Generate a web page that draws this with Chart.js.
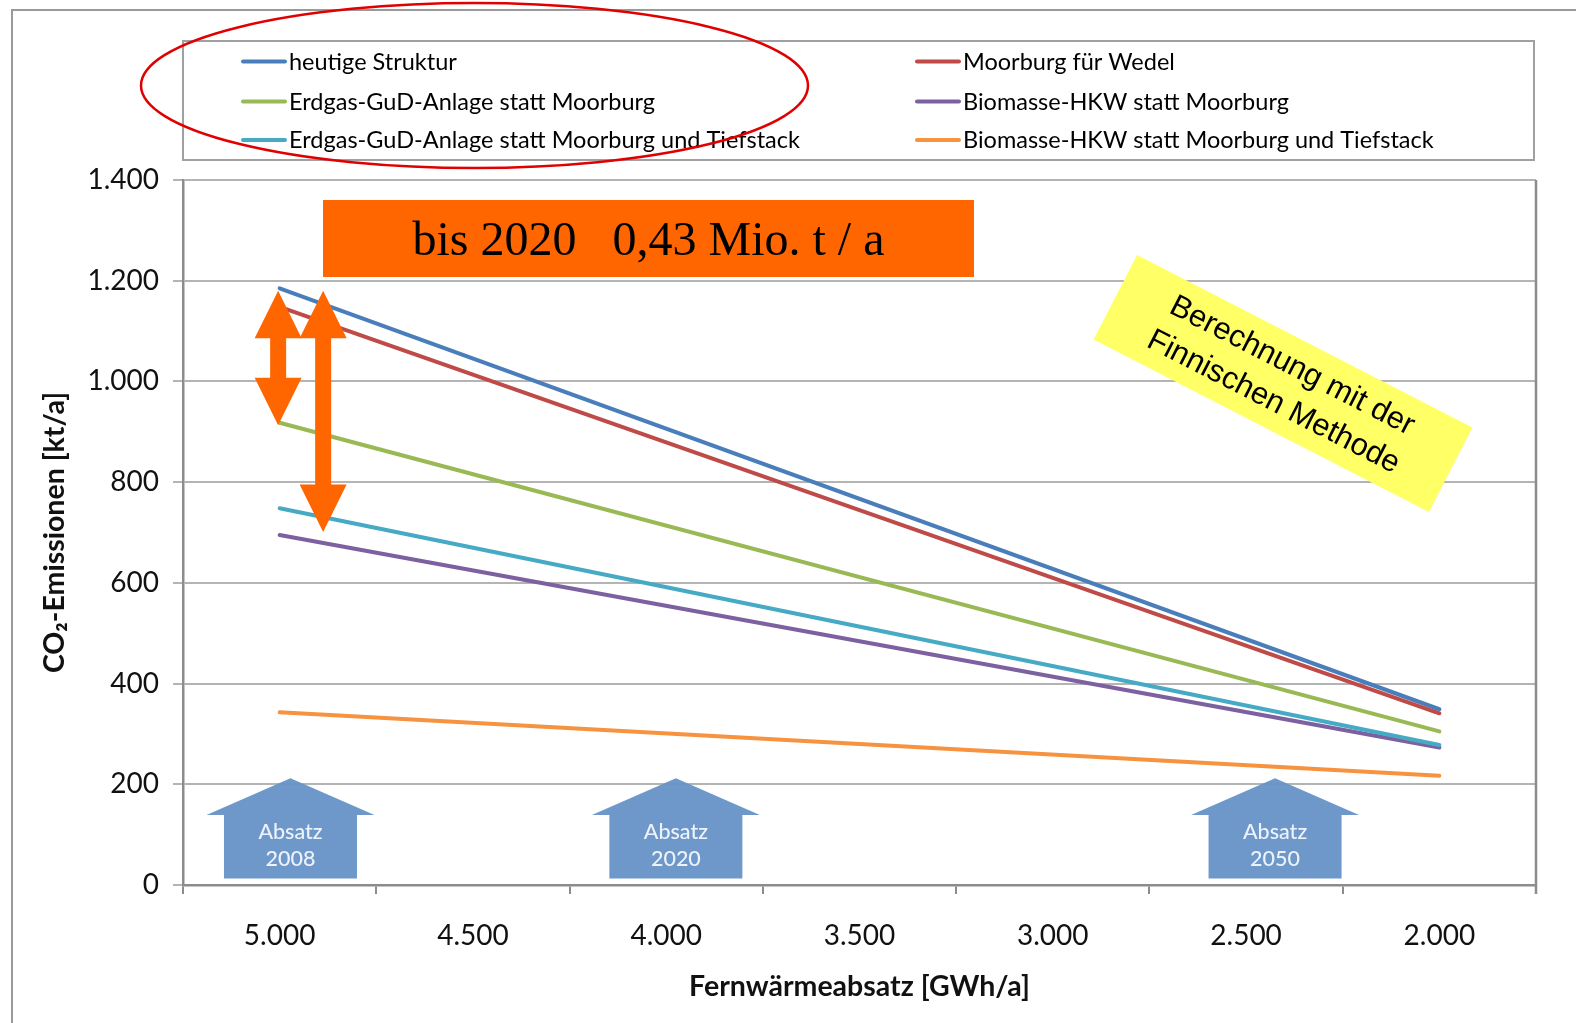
<!DOCTYPE html>
<html><head><meta charset="utf-8">
<script src="https://cdn.jsdelivr.net/npm/chart.js@4.4.1/dist/chart.umd.min.js"></script>
<style>html,body{margin:0;padding:0;background:#fff;}canvas{display:block;}</style>
</head><body>
<canvas id="c" width="1576" height="1023"></canvas>
<script>
// ---- data ----
const categories = ['5.000','4.500','4.000','3.500','3.000','2.500','2.000'];
const heutigeStruktur      = [1185, null, null, null, null, null, 349];
const moorburgFuerWedel    = [1148, null, null, null, null, null, 341];
const erdgasGuD            = [918,  null, null, null, null, null, 305];
const biomasseHKW          = [695,  null, null, null, null, null, 273];
const erdgasGuDTiefstack   = [748,  null, null, null, null, null, 278];
const biomasseHKWTiefstack = [343,  null, null, null, null, null, 217];
const seriesNames = ['heutige Struktur','Moorburg für Wedel','Erdgas-GuD-Anlage statt Moorburg',
  'Biomasse-HKW statt Moorburg','Erdgas-GuD-Anlage statt Moorburg und Tiefstack','Biomasse-HKW statt Moorburg und Tiefstack'];
const seriesValues = [heutigeStruktur, moorburgFuerWedel, erdgasGuD, biomasseHKW, erdgasGuDTiefstack, biomasseHKWTiefstack];
const seriesColors = ['#4A7EBB','#BE4B48','#98B954','#7D60A0','#46AAC5','#F69240'];
const yMin = 0, yMax = 1400, yStep = 200;
const houseLabels = [['Absatz','2008'],['Absatz','2020'],['Absatz','2050']];
const houseCategoryPos = [0.056, 2.05, 5.15];

const FONT = 'Lato, "Open Sans", sans-serif';

function fmtDE(v){ return String(Math.round(v)).replace(/\B(?=(\d{3})+(?!\d))/g, '.'); }

const datasets = seriesNames.map((n,i)=>({
  label: n, data: seriesValues[i], borderColor: seriesColors[i], backgroundColor: seriesColors[i],
  borderWidth: 4, pointRadius: 0, pointHoverRadius: 0, spanGaps: true, tension: 0, order: 6 - i,
  borderCapStyle: 'round'
}));

function doubleArrow(ctx, x, yTop, yBot, headH, headHW, shaftHW){
  ctx.beginPath();
  ctx.moveTo(x, yTop);
  ctx.lineTo(x + headHW, yTop + headH);
  ctx.lineTo(x + shaftHW, yTop + headH);
  ctx.lineTo(x + shaftHW, yBot - headH);
  ctx.lineTo(x + headHW, yBot - headH);
  ctx.lineTo(x, yBot);
  ctx.lineTo(x - headHW, yBot - headH);
  ctx.lineTo(x - shaftHW, yBot - headH);
  ctx.lineTo(x - shaftHW, yTop + headH);
  ctx.lineTo(x - headHW, yTop + headH);
  ctx.closePath();
  ctx.fill();
}

const decor = {
  id: 'decor',
  beforeDraw(chart){
    const ctx = chart.ctx;
    ctx.save();
    ctx.fillStyle = '#fff';
    ctx.fillRect(0,0,chart.width,chart.height);
    ctx.strokeStyle = '#9a9a9a'; ctx.lineWidth = 2;
    ctx.beginPath(); ctx.moveTo(12, chart.height); ctx.lineTo(12, 10); ctx.lineTo(chart.width, 10); ctx.stroke();
    ctx.restore();
  },
  beforeDatasetsDraw(chart){
    const ctx = chart.ctx, a = chart.chartArea;
    ctx.save();
    ctx.strokeStyle = '#8c8c8c'; ctx.lineWidth = 2.5;
    ctx.beginPath(); ctx.moveTo(a.right, a.top); ctx.lineTo(a.right, a.bottom + 9); ctx.stroke();
    ctx.restore();
  },
  afterDraw(chart){
    const ctx = chart.ctx, xs = chart.scales.x, ys = chart.scales.y;
    ctx.save();
    // legend box
    ctx.fillStyle = '#fff';
    ctx.fillRect(183, 41, 1351, 119);
    ctx.strokeStyle = '#a0a0a0'; ctx.lineWidth = 2;
    ctx.strokeRect(183, 41, 1351, 119);
    const rowsY = [61.5, 101.5, 140];
    const colX = [241, 915];
    ctx.font = '23.5px ' + FONT; ctx.textBaseline = 'middle'; ctx.textAlign = 'left';
    chart.data.datasets.forEach((d, i) => {
      const r = Math.floor(i/2), c = i % 2;
      const x0 = colX[c], y0 = rowsY[r];
      ctx.strokeStyle = d.borderColor; ctx.lineWidth = 4; ctx.lineCap = 'round';
      ctx.beginPath(); ctx.moveTo(x0+2, y0); ctx.lineTo(x0 + 44, y0); ctx.stroke();
      ctx.fillStyle = '#000';
      ctx.fillText(d.label, x0 + 48, y0 + 0.5);
    });

    // blue "house" arrows
    houseCategoryPos.forEach((p, k) => {
      const cx = xs.getPixelForValue(p);
      const top = ys.getPixelForValue(212), wing = ys.getPixelForValue(139), bot = ys.getPixelForValue(13);
      ctx.fillStyle = 'rgba(104,148,200,0.96)';
      ctx.beginPath();
      ctx.moveTo(cx, top); ctx.lineTo(cx+84, wing); ctx.lineTo(cx+66.5, wing); ctx.lineTo(cx+66.5, bot);
      ctx.lineTo(cx-66.5, bot); ctx.lineTo(cx-66.5, wing); ctx.lineTo(cx-84, wing); ctx.closePath(); ctx.fill();
      ctx.fillStyle = '#eef3fb'; ctx.font = '500 21.5px ' + FONT; ctx.textAlign = 'center'; ctx.textBaseline = 'middle';
      ctx.fillText(houseLabels[k][0], cx, ys.getPixelForValue(106));
      ctx.fillText(houseLabels[k][1], cx, ys.getPixelForValue(51));
    });

    // orange double arrows
    ctx.fillStyle = '#FF6600';
    const xa = xs.getPixelForValue(0);
    doubleArrow(ctx, xa - 1.5, ys.getPixelForValue(1180), ys.getPixelForValue(913), 47.5, 23.5, 8);
    doubleArrow(ctx, xa + 43.5, ys.getPixelForValue(1180), ys.getPixelForValue(701), 47.5, 23.5, 8);

    // orange box
    ctx.fillStyle = '#FF6600';
    ctx.fillRect(323, 200, 651, 77);
    ctx.fillStyle = '#000';
    ctx.font = '48px "Liberation Serif", "Times New Roman", serif';
    ctx.textAlign = 'center'; ctx.textBaseline = 'alphabetic';
    ctx.fillText('bis 2020   0,43 Mio. t / a', 648.5, 255);

    // yellow rotated note
    ctx.save();
    ctx.translate(1283, 383.5);
    ctx.rotate(27.2 * Math.PI / 180);
    ctx.fillStyle = '#FFFF66';
    ctx.fillRect(-188.5, -47.5, 377, 95);
    ctx.fillStyle = '#000';
    ctx.font = '31px "Liberation Sans", Arial, sans-serif';
    ctx.textAlign = 'center'; ctx.textBaseline = 'middle';
    ctx.fillText('Berechnung mit der', 0, -19.5);
    ctx.fillText('Finnischen Methode', 0, 21);
    ctx.restore();

    // red ellipse
    ctx.strokeStyle = '#E00000'; ctx.lineWidth = 2.5;
    ctx.beginPath(); ctx.ellipse(474.5, 85.5, 333.5, 82.5, 0, 0, Math.PI*2); ctx.stroke();
    ctx.restore();
  }
};

new Chart(document.getElementById('c'), {
  type: 'line',
  data: { labels: categories, datasets },
  plugins: [decor],
  options: {
    responsive: false, animation: false, devicePixelRatio: 1,
    layout: { padding: { top: 180, right: 40, left: 0, bottom: 0 } },
    plugins: { legend: { display: false }, tooltip: { enabled: false } },
    scales: {
      x: {
        type: 'category', offset: true,
        grid: { offset: true, drawOnChartArea: false, drawTicks: true, tickLength: 9, color: '#8c8c8c', lineWidth: 2 },
        border: { display: true, color: '#8c8c8c', width: 2.5 },
        ticks: { color: '#111', font: { family: FONT, size: 28 }, padding: 25, maxRotation: 0, autoSkip: false },
        title: { display: true, text: 'Fernwärmeabsatz [GWh/a]', color: '#111',
          font: { family: FONT, size: 28.5, weight: 'bold' }, padding: { top: 0, bottom: 19 } },
        afterFit(s){ s.height = 138; }
      },
      y: {
        min: yMin, max: yMax,
        grid: { color: '#b4b4b4', lineWidth: 2, tickLength: 10, drawTicks: true },
        border: { display: true, color: '#8c8c8c', width: 2.5 },
        ticks: { stepSize: yStep, color: '#111', font: { family: FONT, size: 28 }, padding: 14,
          callback: v => fmtDE(v) },
        title: { display: true, text: 'CO₂-Emissionen [kt/a]', color: '#111',
          font: { family: FONT, size: 28.5, weight: 'bold' }, padding: { top: 38, bottom: 0 } },
        afterFit(s){ s.width = 183; }
      }
    }
  }
});
</script>
</body></html>
